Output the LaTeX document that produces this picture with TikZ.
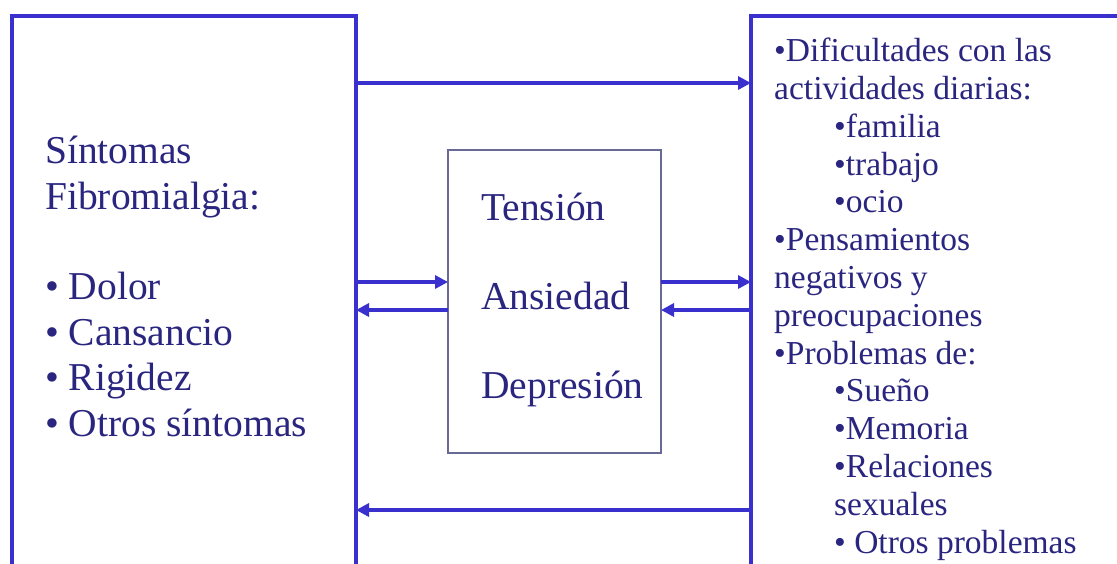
\documentclass[tikz,border=0pt]{standalone}
\usepackage{fontspec}
\setmainfont{Liberation Serif}
\usepackage{xcolor}
\usetikzlibrary{arrows.meta}
\definecolor{boxblue}{RGB}{58,48,205}
\definecolor{txtblue}{RGB}{42,38,128}
\definecolor{midgray}{RGB}{105,105,150}

\begin{document}
\begin{tikzpicture}[x=1pt,y=-1pt,
  bigbox/.style={draw=boxblue,line width=3.5pt,outer sep=0pt,inner sep=0pt,anchor=north west},
  midbox/.style={draw=midgray,line width=1.5pt,outer sep=0pt,inner sep=0pt,anchor=north west},
  flow/.style={draw=boxblue,line width=3.5pt,-{Triangle[length=13pt,width=13pt]}},
  txt/.style={inner sep=0pt,align=left,anchor=base west,text=txtblue}]
\clip (0,0) rectangle (1117,563);
\fill[white] (0,0) rectangle (1117,563);
% boxes
\node[bigbox,minimum width=344pt,minimum height=620pt] (fibro) at (12,16) {};
\node[bigbox,minimum width=420pt,minimum height=620pt] (conse) at (751,16) {};
\node[midbox,minimum width=213pt,minimum height=303pt] (emoc) at (448,150) {};
% texts (anchored at the baseline of their last line)
\node[txt,font=\fontsize{39.5}{45.4}\selectfont] (fibrotxt) at (45,436)
  {Síntomas\\Fibromialgia:\\[45.4pt]• Dolor\\• Cansancio\\• Rigidez\\• Otros síntomas};
\node[txt,font=\fontsize{39.5}{89}\selectfont] (emoctxt) at (481,398)
  {Tensión\\Ansiedad\\Depresión};
\node[txt,font=\fontsize{33.5}{37.8}\selectfont] (consetxt) at (774,553)
  {•Dificultades con las\\actividades diarias:\\
   \hspace*{60pt}•familia\\\hspace*{60pt}•trabajo\\\hspace*{60pt}•ocio\\
   •Pensamientos\\negativos y\\preocupaciones\\•Problemas de:\\
   \hspace*{60pt}•Sueño\\\hspace*{60pt}•Memoria\\\hspace*{60pt}•Relaciones\\
   \hspace*{60pt}sexuales\\\hspace*{60pt}• Otros problemas};
% arrows
\coordinate (ytop) at (0,83);
\coordinate (yin) at (0,282);
\coordinate (yout) at (0,310);
\coordinate (ybot) at (0,510);
\draw[flow] (fibro.east |- ytop) -- (conse.west |- ytop);
\draw[flow] (fibro.east |- yin) -- (emoc.west |- yin);
\draw[flow] (emoc.west |- yout) -- (fibro.east |- yout);
\draw[flow] (emoc.east |- yin) -- (conse.west |- yin);
\draw[flow] (conse.west |- yout) -- (emoc.east |- yout);
\draw[flow] (conse.west |- ybot) -- (fibro.east |- ybot);
\end{tikzpicture}
\end{document}
